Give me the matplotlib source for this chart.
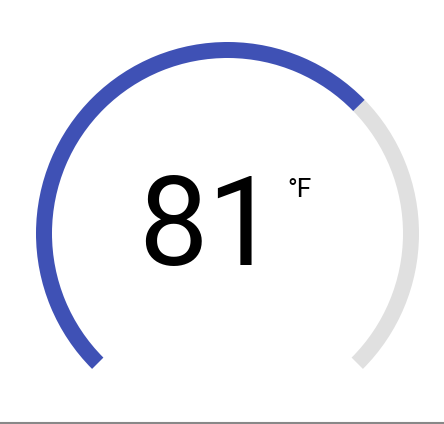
import matplotlib
matplotlib.use("Agg")
import matplotlib.pyplot as plt
from matplotlib.patches import Wedge

# gauge reading
value = 81
unit = "°F"
gauge_min = 0
gauge_max = 121

# gauge geometry (pixel space, y up)
W, H = 444, 424
cx, cy = 227.5, H - 233.5
r_outer = 191.5
ring = 16
start_deg, end_deg = 225, -45   # 270 degree sweep, clockwise

frac = (value - gauge_min) / (gauge_max - gauge_min)
val_deg = start_deg - frac * (start_deg - end_deg)

fig = plt.figure(figsize=(W / 100, H / 100), dpi=100)
ax = fig.add_axes([0, 0, 1, 1])
ax.set_xlim(0, W)
ax.set_ylim(0, H)
ax.set_aspect("equal")
ax.axis("off")

# track + value arc
ax.add_patch(Wedge((cx, cy), r_outer, end_deg, val_deg, width=ring,
                   facecolor="#e0e0e0", edgecolor="none"))
ax.add_patch(Wedge((cx, cy), r_outer, val_deg, start_deg, width=ring,
                   facecolor="#3f51b5", edgecolor="none"))

# readout
ax.text(208, H - 265, str(value), ha="center", va="baseline",
        fontsize=89, family="Roboto", color="black")
ax.text(287, H - 197, unit, ha="left", va="baseline",
        fontsize=19, family="Roboto", color="black")

# bottom divider
ax.plot([0, W], [H - 423, H - 423], color="#888888", linewidth=1.5,
        solid_capstyle="butt")

fig.savefig("out.png", dpi=100)
